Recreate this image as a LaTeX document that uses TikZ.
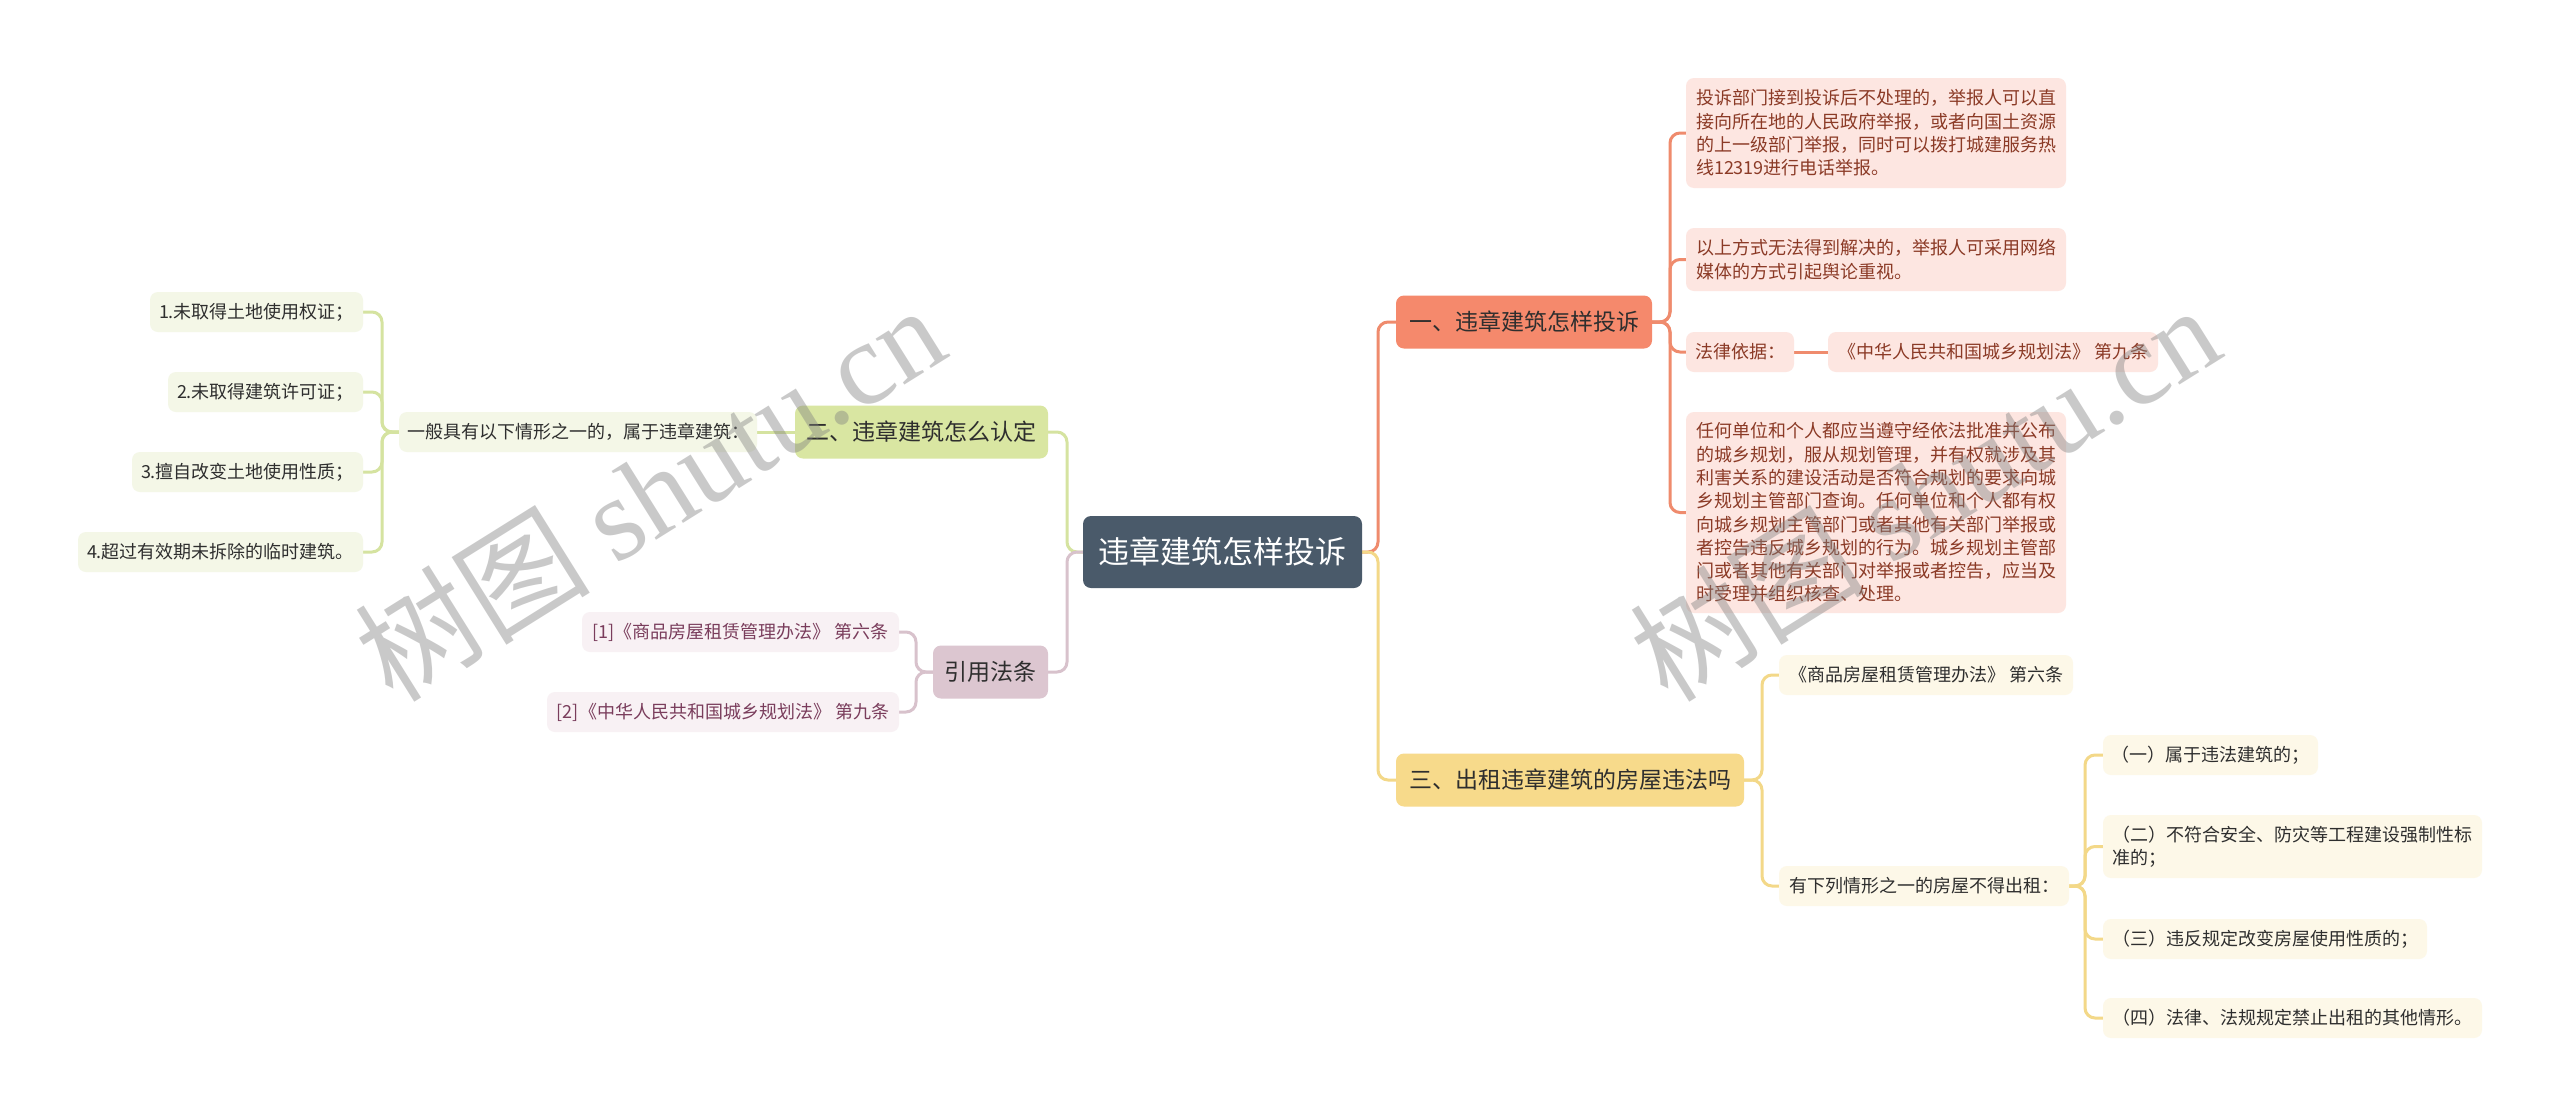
\documentclass[tikz,border=0pt]{standalone}
\usepackage{fontspec}
\setmainfont{Noto Sans CJK SC}
\newfontfamily\wmserif{Liberation Serif}
\definecolor{cRoot}{HTML}{4A5A6A}
\definecolor{cDark}{HTML}{2E2E2E}
\definecolor{cRed}{HTML}{F5896C}
\definecolor{cRedL}{HTML}{FDE6E1}
\definecolor{cRedT}{HTML}{8B3A26}
\definecolor{cRedC}{HTML}{EF8B6D}
\definecolor{cGre}{HTML}{D9E6A2}
\definecolor{cGreL}{HTML}{F4F7E7}
\definecolor{cGreC}{HTML}{D5E3A0}
\definecolor{cMau}{HTML}{DCC6D0}
\definecolor{cMauL}{HTML}{F8F1F4}
\definecolor{cMauT}{HTML}{7A3D5C}
\definecolor{cMauC}{HTML}{D8C2CC}
\definecolor{cYel}{HTML}{F7DA8B}
\definecolor{cYelL}{HTML}{FDF8E8}
\definecolor{cYelC}{HTML}{F3D888}
\pgfdeclarelayer{bg}
\pgfsetlayers{bg,main}
\newcommand{\leaffont}{\fontsize{18}{23.3}\selectfont}
\tikzset{
  box/.style={rectangle, rounded corners=8pt, inner sep=0pt, draw=none},
  rootbox/.style={box, fill=cRoot, text=white, font=\fontsize{31}{36}\selectfont, minimum width=279pt, minimum height=72pt},
  mainbox/.style={box, text=cDark, font=\fontsize{23}{28}\selectfont, minimum height=53pt},
  leaf/.style={box, font=\leaffont, minimum height=40pt},
  leafR/.style={leaf, fill=cRedL, text=cRedT},
  leafG/.style={leaf, fill=cGreL, text=cDark},
  leafM/.style={leaf, fill=cMauL, text=cMauT},
  leafY/.style={leaf, fill=cYelL, text=cDark},
  para/.style={text width=360pt, align=left},
  conn/.style={line width=3pt, rounded corners=10pt},
  wm/.style={text=black!50, text opacity=0.42, font=\fontsize{118}{118}\selectfont, inner sep=0pt, rotate=32, anchor=base west}
}
\begin{document}
\begin{tikzpicture}[x=1pt,y=-1pt]
\useasboundingbox (0,0) rectangle (2560,1117);

% root and main branches
\node[rootbox] (root) at (1222.5,552) {违章建筑怎样投诉};
\node[mainbox, fill=cRed, minimum width=256pt] (n1) at (1524,322) {一、违章建筑怎样投诉};
\node[mainbox, fill=cYel, minimum width=348pt] (n3) at (1570,780) {三、出租违章建筑的房屋违法吗};
\node[mainbox, fill=cGre, minimum width=253pt] (n2) at (921.5,432) {二、违章建筑怎么认定};
\node[mainbox, fill=cMau, minimum width=115pt] (ref) at (990.5,672) {引用法条};

% branch one children
\node[leafR, para, minimum width=380pt, minimum height=110pt] (c1) at (1876,133) {投诉部门接到投诉后不处理的，举报人可以直\\接向所在地的人民政府举报，或者向国土资源\\的上一级部门举报，同时可以拨打城建服务热\\线12319进行电话举报。};
\node[leafR, para, minimum width=380pt, minimum height=63pt] (c2) at (1876,259.5) {以上方式无法得到解决的，举报人可采用网络\\媒体的方式引起舆论重视。};
\node[leafR, minimum width=108pt] (c3a) at (1740,352) {法律依据：};
\node[leafR, minimum width=330pt] (c3b) at (1993,352) {《中华人民共和国城乡规划法》 第九条};
\node[leafR, para, minimum width=380pt, minimum height=201pt] (c4) at (1876,512.5) {任何单位和个人都应当遵守经依法批准并公布\\的城乡规划，服从规划管理，并有权就涉及其\\利害关系的建设活动是否符合规划的要求向城\\乡规划主管部门查询。任何单位和个人都有权\\向城乡规划主管部门或者其他有关部门举报或\\者控告违反城乡规划的行为。城乡规划主管部\\门或者其他有关部门对举报或者控告，应当及\\时受理并组织核查、处理。};

% branch two children
\node[leafG, minimum width=358pt] (g0) at (578,432) {一般具有以下情形之一的，属于违章建筑：};
\node[leafG, minimum width=213pt] (l1) at (256.5,312) {1.未取得土地使用权证；};
\node[leafG, minimum width=195pt] (l2) at (265.5,392) {2.未取得建筑许可证；};
\node[leafG, minimum width=231pt] (l3) at (247.5,472) {3.擅自改变土地使用性质；};
\node[leafG, minimum width=285pt] (l4) at (220.5,552) {4.超过有效期未拆除的临时建筑。};

% references
\node[leafM, minimum width=317pt] (r1) at (740.5,632) {[1]《商品房屋租赁管理办法》 第六条};
\node[leafM, minimum width=352pt] (r2) at (723,712) {[2]《中华人民共和国城乡规划法》 第九条};

% branch three children
\node[leafY, minimum width=294pt] (t1) at (1926,675) {《商品房屋租赁管理办法》 第六条};
\node[leafY, minimum width=290pt] (t2) at (1924,886) {有下列情形之一的房屋不得出租：};
\node[leafY, minimum width=215pt] (u1) at (2210.5,755) {（一）属于违法建筑的；};
\node[leafY, para, minimum width=379pt, minimum height=63pt] (u2) at (2292.5,846.5) {（二）不符合安全、防灾等工程建设强制性标\\准的；};
\node[leafY, minimum width=324pt] (u3) at (2265,939) {（三）违反规定改变房屋使用性质的；};
\node[leafY, minimum width=379pt] (u4) at (2292.5,1018) {（四）法律、法规规定禁止出租的其他情形。};

\begin{pgfonlayer}{bg}
\fill[white] (0,0) rectangle (2560,1117);
% root connectors
\draw[conn, cRedC] (root.east) -- (1378,552) -- (1378,322) -- (n1.west);
\draw[conn, cYelC] (root.east) -- (1378,552) -- (1378,780) -- (n3.west);
\draw[conn, cGreC] (root.west) -- (1067,552) -- (1067,432) -- (n2.east);
\draw[conn, cMauC] (root.west) -- (1067,552) -- (1067,672) -- (ref.east);
% branch one
\draw[conn, cRedC] (n1.east) -- (1670,322) -- (1670,133) -- (c1.west);
\draw[conn, cRedC] (n1.east) -- (1670,322) -- (1670,259.5) -- (c2.west);
\draw[conn, cRedC] (n1.east) -- (1670,322) -- (1670,352) -- (c3a.west);
\draw[conn, cRedC] (n1.east) -- (1670,322) -- (1670,512.5) -- (c4.west);
\draw[conn, cRedC] (c3a.east) -- (c3b.west);
% branch two
\draw[conn, cGreC] (n2.west) -- (g0.east);
\draw[conn, cGreC] (g0.west) -- (382,432) -- (382,312) -- (l1.east);
\draw[conn, cGreC] (g0.west) -- (382,432) -- (382,392) -- (l2.east);
\draw[conn, cGreC] (g0.west) -- (382,432) -- (382,472) -- (l3.east);
\draw[conn, cGreC] (g0.west) -- (382,432) -- (382,552) -- (l4.east);
% references
\draw[conn, cMauC] (ref.west) -- (916,672) -- (916,632) -- (r1.east);
\draw[conn, cMauC] (ref.west) -- (916,672) -- (916,712) -- (r2.east);
% branch three
\draw[conn, cYelC] (n3.east) -- (1762,780) -- (1762,675) -- (t1.west);
\draw[conn, cYelC] (n3.east) -- (1762,780) -- (1762,886) -- (t2.west);
\draw[conn, cYelC] (t2.east) -- (2085,886) -- (2085,755) -- (u1.west);
\draw[conn, cYelC] (t2.east) -- (2085,886) -- (2085,846.5) -- (u2.west);
\draw[conn, cYelC] (t2.east) -- (2085,886) -- (2085,939) -- (u3.west);
\draw[conn, cYelC] (t2.east) -- (2085,886) -- (2085,1018) -- (u4.west);
\end{pgfonlayer}

% watermarks
\node[wm] (wm1) at (393,705) {树图 {\wmserif shutu.cn}};
\node[wm] (wm2) at (1668,705) {树图 {\wmserif shutu.cn}};
\end{tikzpicture}
\end{document}
